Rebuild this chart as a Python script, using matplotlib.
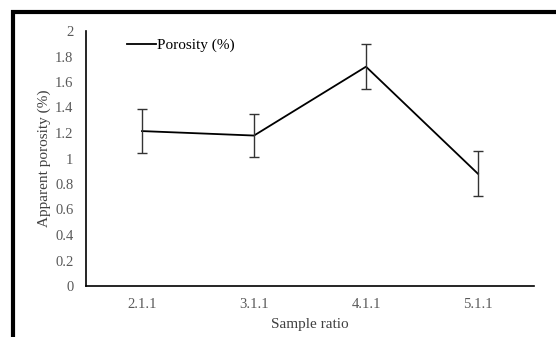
import matplotlib.pyplot as plt
from matplotlib.lines import Line2D

plt.rcParams['font.family'] = ['Liberation Serif', 'DejaVu Serif']

ratios = ['2.1.1', '3.1.1', '4.1.1', '5.1.1']
porosity = [1.215, 1.18, 1.72, 0.88]
errors = [0.175, 0.17, 0.175, 0.175]

fig = plt.figure(figsize=(5.56, 3.37), dpi=100)
ax = fig.add_axes([86 / 556, 1 - 286 / 337, 448 / 556, 255 / 337])

x = list(range(len(ratios)))
ax.plot(x, porosity, color='black', lw=1.3, label='Porosity (%)')
ax.errorbar(x, porosity, yerr=errors, fmt='none', ecolor='#333333',
            elinewidth=1.0, capsize=3.5, capthick=1.0)

ax.set_xlim(-0.5, 3.5)
ax.set_ylim(0, 2)
ax.set_yticks([0, 0.2, 0.4, 0.6, 0.8, 1, 1.2, 1.4, 1.6, 1.8, 2])
ax.set_yticklabels(['0', '0.2', '0.4', '0.6', '0.8', '1', '1.2', '1.4',
                    '1.6', '1.8', '2'])
ax.set_xticks(x)
ax.set_xticklabels(ratios)
ax.tick_params(length=0, labelsize=10.5, labelcolor='#595959')
ax.tick_params(axis='y', pad=9)
ax.tick_params(axis='x', pad=9)
for s in ['top', 'right']:
    ax.spines[s].set_visible(False)
ax.spines['left'].set_linewidth(1.2)
ax.spines['bottom'].set_linewidth(1.2)

ax.set_ylabel('Apparent porosity (%)', fontsize=11, color='#404040', labelpad=3)
ax.set_xlabel('Sample ratio', fontsize=11, color='#404040', labelpad=5)

ax.legend(loc='upper left', bbox_to_anchor=(0.06, 1.025), frameon=False,
          fontsize=11, handlelength=1.9, handletextpad=0.1)

# thick border of the original screenshot (left and top only)
fig.add_artist(Line2D([12.5 / 556, 12.5 / 556], [0, 1 - 10 / 337],
                      color='black', lw=3, solid_capstyle='butt',
                      transform=fig.transFigure))
fig.add_artist(Line2D([10.5 / 556, 1], [1 - 11.5 / 337, 1 - 11.5 / 337],
                      color='black', lw=3, solid_capstyle='butt',
                      transform=fig.transFigure))

fig.savefig('out.png', dpi=100)
